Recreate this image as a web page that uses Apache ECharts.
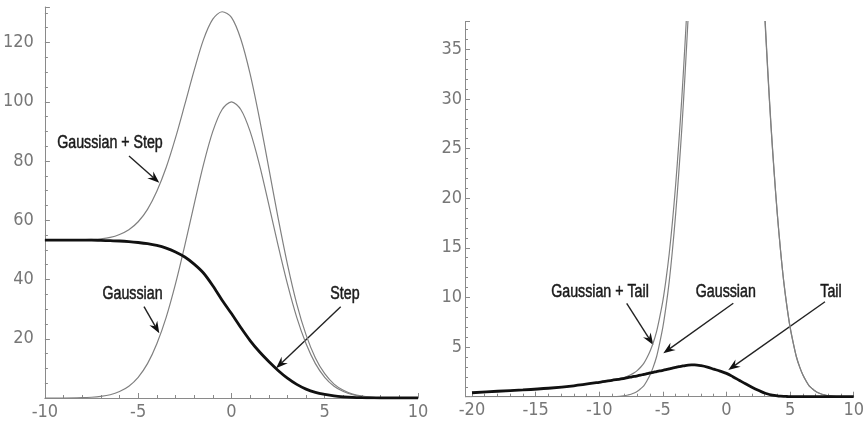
<!DOCTYPE html>
<html>
<head>
<meta charset="utf-8">
<script src="https://cdn.jsdelivr.net/npm/echarts@6/dist/echarts.min.js"></script>
<style>
  html, body { margin: 0; padding: 0; background: #fff; }
  #chart { width: 867px; height: 425px; }
</style>
</head>
<body>
<div id="chart"></div>
<script>
// left panel: gaussian, step and their sum
const xLeft = [-10, -9, -8, -7.5, -7, -6.5, -6, -5.5, -5, -4.5, -4, -3.5, -3, -2.5, -2, -1.5, -1, -0.5,
  0, 0.5, 1, 1.5, 2, 2.5, 3, 3.5, 4, 4.5, 5, 5.5, 6, 6.5, 7, 7.5, 8, 9, 10]
const gaussLeft = [0, 0, 0.1, 0.25, 0.55, 1.1, 2.2, 4.0, 7.0, 11.6, 18.3, 27.2, 38.5, 51.5, 65.4, 78.8, 90, 97.4,
  100, 97.4, 90, 78.8, 65.4, 51.5, 38.5, 27.2, 18.3, 11.6, 7.0, 4.0, 2.2, 1.1, 0.55, 0.25, 0.1, 0, 0]
const stepLeft = [53.3, 53.3, 53.3, 53.3, 53.2, 53.1, 53.0, 52.8, 52.5, 52.1, 51.5, 50.6, 49.3, 47.6, 45.2, 42.2, 37.9, 33.0,
  28.5, 23.8, 19.4, 15.6, 12.3, 9.3, 6.7, 4.6, 3.0, 1.9, 1.2, 0.7, 0.4, 0.2, 0.1, 0.05, 0, 0, 0]
const sumLeft = [53.3, 53.3, 53.4, 53.55, 53.75, 54.2, 55.2, 56.8, 59.5, 63.7, 69.8, 77.8, 87.8, 99.1, 110.6, 121.0, 127.9, 130.4,
  128.5, 121.2, 109.4, 94.4, 77.7, 60.8, 45.2, 31.8, 21.3, 13.5, 8.2, 4.7, 2.6, 1.3, 0.65, 0.3, 0.1, 0, 0]

// right panel: gaussian, tail and their sum
const xRight = [-20, -18, -16, -14, -12, -10, -9, -8, -7.75, -7.5, -7.25, -7, -6.75, -6.5, -6.25, -6, -5.75, -5.5, -5.25, -5,
  -4.75, -4.5, -4.25, -4, -3.75, -3.5, -3.25, -3, -2.75, -2.5, -2, -1.5, -1, -0.5, 0, 0.5, 1, 1.5, 2, 2.5, 2.75,
  3, 3.25, 3.5, 3.75, 4, 4.25, 4.5, 4.75, 5, 5.25, 5.5, 5.75, 6, 6.25, 6.5, 6.75, 7, 7.25, 7.5, 7.75, 8, 9, 10]
const gaussRight = [0, 0, 0, 0, 0, 0, 0, 0.1, 0.17, 0.25, 0.37, 0.55, 0.8, 1.1, 1.6, 2.2, 3.0, 4.0, 5.4, 7.0,
  9.1, 11.6, 14.7, 18.3, 22.5, 27.2, 32.6, 38.5, 44.7, 51.5, 65.4, 78.8, 90, 97.4, 100, 97.4, 90, 78.8, 65.4, 51.5, 44.7,
  38.5, 32.6, 27.2, 22.5, 18.3, 14.7, 11.6, 9.1, 7.0, 5.4, 4.0, 3.0, 2.2, 1.6, 1.1, 0.8, 0.55, 0.37, 0.25, 0.17, 0.1, 0, 0]
const tailRight = [0.4, 0.55, 0.68, 0.85, 1.1, 1.45, 1.65, 1.85, 1.92, 1.98, 2.04, 2.1, 2.17, 2.25, 2.32, 2.4, 2.46, 2.53, 2.59, 2.65,
  2.72, 2.8, 2.88, 2.95, 3.02, 3.08, 3.14, 3.18, 3.2, 3.2, 3.12, 2.98, 2.78, 2.58, 2.35, 2.02, 1.66, 1.3, 0.96, 0.64, 0.5,
  0.37, 0.27, 0.19, 0.13, 0.08, 0.05, 0.03, 0.02, 0.01, 0, 0, 0, 0, 0, 0, 0, 0, 0, 0, 0, 0, 0, 0]
const sumRight = [0.4, 0.55, 0.68, 0.85, 1.1, 1.45, 1.65, 1.95, 2.09, 2.23, 2.41, 2.65, 2.97, 3.35, 3.92, 4.6, 5.46, 6.53, 7.99, 9.65,
  11.82, 14.4, 17.58, 21.25, 25.52, 30.28, 35.74, 41.68, 47.9, 54.7, 68.52, 81.78, 92.78, 99.98, 102.35, 99.42, 91.66, 80.1, 66.36, 52.14, 45.2,
  38.87, 32.87, 27.39, 22.63, 18.38, 14.75, 11.63, 9.12, 7.01, 5.4, 4.0, 3.0, 2.2, 1.6, 1.1, 0.8, 0.55, 0.37, 0.25, 0.17, 0.1, 0, 0]

const labelFont = "'Liberation Sans Narrow', 'DejaVu Sans Condensed', 'Liberation Sans', sans-serif"
const axisGrey = '#8a8a8a'

function pairs(xs, ys) {
  return xs.map((x, i) => [x, ys[i]])
}

function xAxisCfg(idx, min, max) {
  return {
    type: 'value', gridIndex: idx, min: min, max: max, interval: 5,
    axisLine: { show: true, onZero: false, lineStyle: { color: axisGrey, width: 1 } },
    axisTick: { show: true, inside: true, length: 5, lineStyle: { color: axisGrey } },
    minorTick: { show: true, splitNumber: 5, length: 3, lineStyle: { color: axisGrey } },
    splitLine: { show: false },
    axisLabel: { color: '#777', fontSize: 18, fontFamily: labelFont, margin: 5 }
  }
}

function yAxisCfg(idx, max, interval, minorSplit, margin, offset) {
  return {
    type: 'value', gridIndex: idx, min: 0, max: max, interval: interval, offset: offset,
    axisLine: { show: true, onZero: false, lineStyle: { color: axisGrey, width: 1 } },
    axisTick: { show: true, inside: true, length: 5, lineStyle: { color: axisGrey } },
    minorTick: { show: true, splitNumber: minorSplit, length: 3, lineStyle: { color: axisGrey } },
    splitLine: { show: false },
    axisLabel: {
      color: '#777', fontSize: 18, fontFamily: labelFont, margin: margin, showMaxLabel: false,
      formatter: v => (v === 0 ? '' : String(v))
    }
  }
}

function curve(name, xs, ys, xi, color, width, z) {
  return {
    name: name, type: 'line', xAxisIndex: xi, yAxisIndex: xi,
    data: pairs(xs, ys), showSymbol: false, smooth: 0.3, z: z,
    lineStyle: { color: color, width: width }
  }
}

function arrow(x1, y1, x2, y2) {
  const a = Math.atan2(y2 - y1, x2 - x1)
  const c = Math.cos(a), s = Math.sin(a)
  const p = (d, w) => [x2 - d * c - w * s, y2 - d * s + w * c]
  const back = p(8, 0)
  return [
    { type: 'line', shape: { x1: x1, y1: y1, x2: back[0], y2: back[1] }, style: { stroke: '#222', lineWidth: 1.4 } },
    { type: 'polygon', shape: { points: [[x2, y2], p(12, 4.5), back, p(12, -4.5)] }, style: { fill: '#111' } }
  ]
}

function note(text, x, y) {
  return {
    type: 'text', x: x, y: y, scaleX: 0.79,
    style: {
      text: text, fill: '#1a1a1a', stroke: '#1a1a1a', lineWidth: 0.5,
      font: "18px 'Liberation Sans', Arial, sans-serif", align: 'center', verticalAlign: 'middle'
    }
  }
}

const chart = echarts.init(document.getElementById('chart'), null, { renderer: 'canvas' })

chart.setOption({
  animation: false,
  backgroundColor: '#fff',
  grid: [
    { left: 43, right: 449, top: 7, bottom: 27 },
    { left: 472, right: 10, top: 21.5, bottom: 28.3 }
  ],
  xAxis: [xAxisCfg(0, -10, 10), xAxisCfg(1, -20, 10)],
  yAxis: [yAxisCfg(0, 132, 20, 4, 11, 0), yAxisCfg(1, 37.8, 5, 5, 3, 7)],
  series: [
    curve('Gaussian + Step', xLeft, sumLeft, 0, '#808080', 1.2, 2),
    curve('Gaussian', xLeft, gaussLeft, 0, '#808080', 1.2, 2),
    curve('Step', xLeft, stepLeft, 0, '#111', 2.8, 3),
    curve('Gaussian + Tail', xRight, sumRight, 1, '#808080', 1.2, 2),
    curve('Gaussian', xRight, gaussRight, 1, '#808080', 1.2, 2),
    curve('Tail', xRight, tailRight, 1, '#111', 2.8, 3)
  ],
  graphic: [
    // x axis line of the right panel reaches the shifted y axis
    { type: 'line', shape: { x1: 465, y1: 396.7, x2: 472, y2: 396.7 }, style: { stroke: axisGrey, lineWidth: 1 } },
    note('Gaussian + Step', 110, 143.5),
    note('Gaussian', 132.5, 294.5),
    note('Step', 345, 294.5),
    note('Gaussian + Tail', 600, 291.7),
    note('Gaussian', 725.8, 291.7),
    note('Tail', 831, 291.7),
    ...arrow(129, 156, 159.3, 182.7),
    ...arrow(144, 306.7, 159.3, 333.3),
    ...arrow(340.7, 306.7, 276, 368.3),
    ...arrow(626.7, 303.3, 653.3, 345),
    ...arrow(733.3, 303.3, 663.3, 353.3),
    ...arrow(825, 301.7, 728.3, 370)
  ]
})
</script>
</body>
</html>
